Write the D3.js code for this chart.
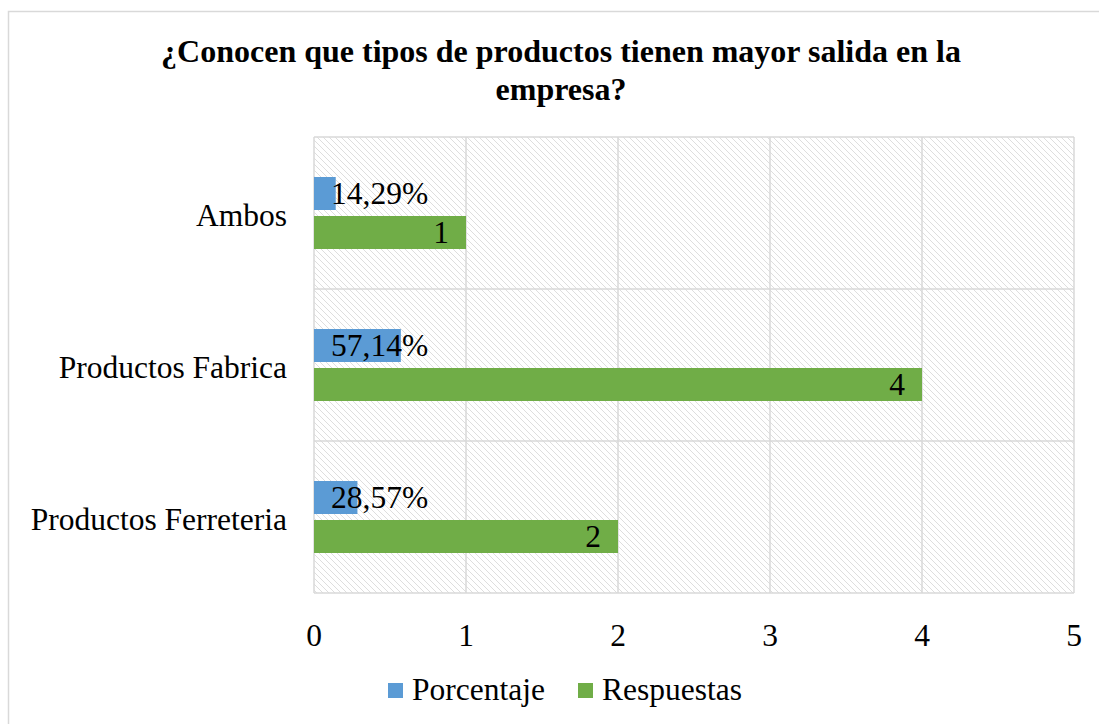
<!DOCTYPE html>
<html><head><meta charset="utf-8">
<script src="https://cdn.jsdelivr.net/npm/d3@7"></script>
<style>body{margin:0;background:#fff;} svg{display:block;}</style>
</head><body>
<svg id="c" width="1099" height="724"></svg>
<script>
const categories = ["Ambos", "Productos Fabrica", "Productos Ferreteria"];
const porcentaje = [0.1429, 0.5714, 0.2857];
const porcentajeLabels = ["14,29%", "57,14%", "28,57%"];
const respuestas = [1, 4, 2];
const xTicks = [0, 1, 2, 3, 4, 5];
const seriesNames = ["Porcentaje", "Respuestas"];
const colors = ["#5B9BD5", "#70AD47"];
const titleLines = ["¿Conocen que tipos de productos tienen mayor salida en la", "empresa?"];

const FONT = "'Liberation Serif','Times New Roman',serif";
const FS = 31.5;
const svg = d3.select("#c");

// outer border
svg.append("rect").attr("x", 8.5).attr("y", 11.5).attr("width", 1120).attr("height", 740)
  .attr("fill", "#fff").attr("stroke", "#d9d9d9").attr("stroke-width", 1.5);

const defs = svg.append("defs");
const P = 6;
const pat = defs.append("pattern").attr("id", "hatch").attr("patternUnits", "userSpaceOnUse")
  .attr("width", P).attr("height", P);
pat.append("rect").attr("width", P).attr("height", P).attr("fill", "#fff");
pat.append("path").attr("d", `M-1,-1 L${P+1},${P+1} M-1,${P-1} L1,${P+1} M${P-1},-1 L${P+1},1`)
  .attr("stroke", "#dedede").attr("stroke-width", 1);

const L = 314, R = 1074, T = 137, B = 593;
const x = d3.scaleLinear().domain([0, 5]).range([L, R]);
const y = d3.scaleBand().domain(categories).range([T, B]);
const inner = d3.scaleBand().domain(seriesNames).range([0, y.bandwidth()]).paddingInner(0.154).paddingOuter(1.026);

const g = svg.append("g");
g.append("rect").attr("x", L).attr("y", T).attr("width", R - L).attr("height", B - T).attr("fill", "url(#hatch)");

// vertical gridlines
g.selectAll("line.vg").data(xTicks).join("line")
  .attr("x1", d => x(d)).attr("x2", d => x(d)).attr("y1", T).attr("y2", B)
  .attr("stroke", "#d9d9d9").attr("stroke-width", 1.5);
// horizontal band lines
const hs = categories.map(c => y(c)).concat([B]);
g.selectAll("line.hg").data(hs).join("line")
  .attr("x1", L).attr("x2", R).attr("y1", d => d).attr("y2", d => d)
  .attr("stroke", "#d9d9d9").attr("stroke-width", 1.5);

// bars
categories.forEach((c, i) => {
  const vals = [porcentaje[i], respuestas[i]];
  vals.forEach((v, s) => {
    g.append("rect").attr("x", x(0)).attr("y", y(c) + inner(seriesNames[s]))
      .attr("width", x(v) - x(0)).attr("height", inner.bandwidth()).attr("fill", colors[s]);
  });
  const yb = y(c) + inner("Porcentaje") + inner.bandwidth() / 2;
  g.append("text").attr("x", x(0) + 17).attr("y", yb).attr("dy", "0.33em")
    .attr("font-family", FONT).attr("font-size", FS).attr("fill", "#000").text(porcentajeLabels[i]);
  const yg = y(c) + inner("Respuestas") + inner.bandwidth() / 2;
  g.append("text").attr("x", x(respuestas[i]) - 17).attr("y", yg).attr("dy", "0.33em")
    .attr("text-anchor", "end").attr("font-family", FONT).attr("font-size", FS).attr("fill", "#000")
    .text(respuestas[i]);
});

// category labels
svg.selectAll("text.cat").data(categories).join("text")
  .attr("x", 287).attr("y", d => y(d) + y.bandwidth() / 2).attr("dy", "0.4em")
  .attr("text-anchor", "end").attr("font-family", FONT).attr("font-size", FS).attr("fill", "#000").text(d => d);

// x tick labels
svg.selectAll("text.xt").data(xTicks).join("text")
  .attr("x", d => x(d)).attr("y", 646).attr("text-anchor", "middle")
  .attr("font-family", FONT).attr("font-size", FS).attr("fill", "#000").text(d => d);

// title
svg.selectAll("text.title").data(titleLines).join("text")
  .attr("x", 561).attr("y", (d, i) => 62 + i * 38).attr("text-anchor", "middle")
  .attr("font-family", FONT).attr("font-size", 32).attr("font-weight", "bold").attr("fill", "#000").text(d => d);

// legend
const legX = [388, 578];
seriesNames.forEach((n, i) => {
  svg.append("rect").attr("x", legX[i]).attr("y", 683).attr("width", 15).attr("height", 15).attr("fill", colors[i]);
  svg.append("text").attr("x", legX[i] + 24).attr("y", 700).attr("font-family", FONT).attr("font-size", FS)
    .attr("fill", "#000").text(n);
});
</script>
</body></html>
